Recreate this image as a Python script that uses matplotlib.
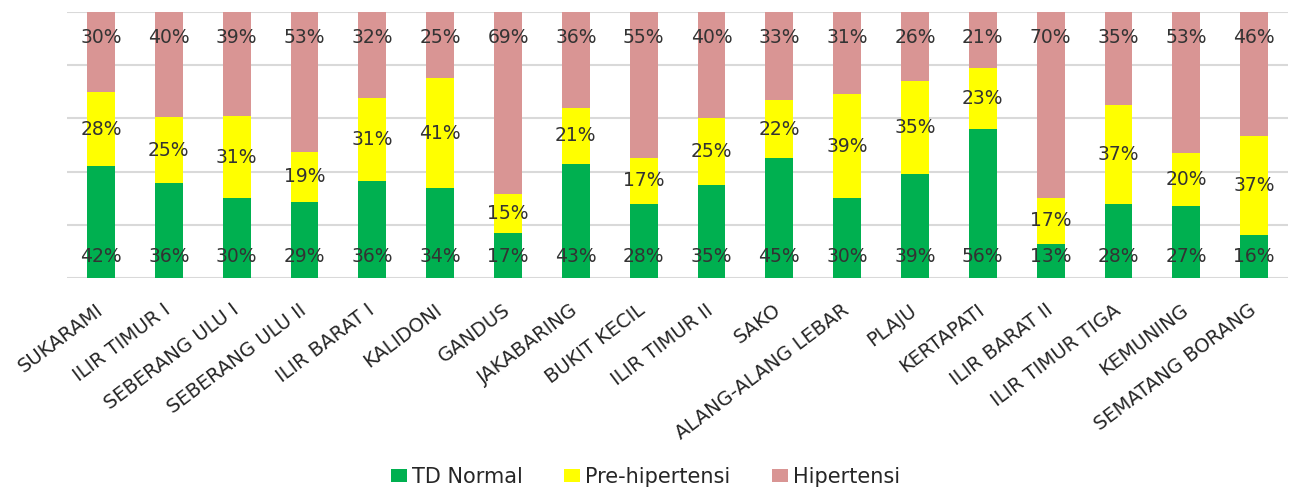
import numpy as np
import matplotlib.pyplot as plt
from matplotlib.transforms import ScaledTranslation

kecamatan = ["SUKARAMI", "ILIR TIMUR I", "SEBERANG ULU I", "SEBERANG ULU II",
             "ILIR BARAT I", "KALIDONI", "GANDUS", "JAKABARING", "BUKIT KECIL",
             "ILIR TIMUR II", "SAKO", "ALANG-ALANG LEBAR", "PLAJU", "KERTAPATI",
             "ILIR BARAT II", "ILIR TIMUR TIGA", "KEMUNING", "SEMATANG BORANG"]
td_normal = [42, 36, 30, 29, 36, 34, 17, 43, 28, 35, 45, 30, 39, 56, 13, 28, 27, 16]
pre_hipertensi = [28, 25, 31, 19, 31, 41, 15, 21, 17, 25, 22, 39, 35, 23, 17, 37, 20, 37]
hipertensi = [30, 40, 39, 53, 32, 25, 69, 36, 55, 40, 33, 31, 26, 21, 70, 35, 53, 46]

seri = [("TD Normal", td_normal, "#00B050"),
        ("Pre-hipertensi", pre_hipertensi, "#FFFF00"),
        ("Hipertensi", hipertensi, "#D99594")]

# 100% stacked: normalise each kecamatan to its total
data = np.array([s[1] for s in seri], dtype=float)
persen = data / data.sum(axis=0) * 100

fig = plt.figure(figsize=(12.91, 4.95), dpi=100)
ax = fig.add_axes([0.052, 0.438, 0.9457, 0.538])
x = np.arange(len(kecamatan))

for yv in range(0, 101, 20):
    ax.axhline(yv, color="#D9D9D9", lw=1.5, zorder=0)

bawah = np.zeros(len(kecamatan))
for i, (nama, nilai, warna) in enumerate(seri):
    ax.bar(x, persen[i], 0.41, bottom=bawah, color=warna, label=nama, zorder=2)
    for j, v in enumerate(nilai):
        if i == 0:
            ty = 8
        elif i == 2:
            ty = 90.5
        else:
            ty = bawah[j] + persen[i][j] / 2
        ax.text(x[j], ty, f"{v}%", ha="center", va="center", fontsize=13.5,
                color="#333333", zorder=3)
    bawah += persen[i]

ax.set_xlim(-0.5, len(kecamatan) - 0.5)
ax.set_ylim(0, 100)
ax.set_yticks([])
for s in ax.spines.values():
    s.set_visible(False)
ax.set_xticks(x)
ax.set_xticklabels(kecamatan, rotation=37, ha="right", va="top",
                   rotation_mode="anchor", fontsize=14, color="#262626")
ax.tick_params(axis="x", length=0, pad=16)
# nudge the slanted labels a little to the left
geser = ScaledTranslation(-6 / 100, 0, fig.dpi_scale_trans)
for lbl in ax.get_xticklabels():
    lbl.set_transform(lbl.get_transform() + geser)

fig.legend(loc="center", bbox_to_anchor=(0.5, 0.036), ncol=3, frameon=False,
           prop={"size": 15}, handlelength=0.75, handleheight=0.6,
           handletextpad=0.25, columnspacing=2.0, labelcolor="#262626")

fig.savefig("out.png", dpi=100)
